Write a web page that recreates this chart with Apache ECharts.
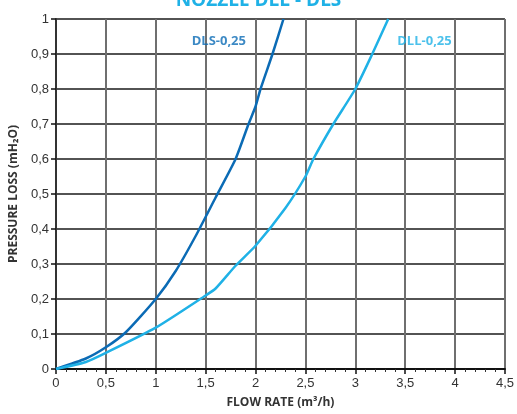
<!DOCTYPE html>
<html>
<head>
<meta charset="utf-8">
<script src="https://cdn.jsdelivr.net/npm/echarts@6/dist/echarts.min.js"></script>
<style>html,body{margin:0;padding:0;background:#fff;overflow:hidden}#c{width:517px;height:414px}</style>
</head>
<body>
<div id="c"></div>
<script>
var titleText = 'NOZZLE DLL - DLS';
var xAxisName = 'FLOW RATE (m³/h)';
var yAxisName = 'PRESSURE LOSS (mH₂O)';
var dlsName = 'DLS-0,25';
var dllName = 'DLL-0,25';
var dlsData = [[0,0],[0.3,0.03],[0.5,0.062],[0.7,0.105],[1.0,0.2],[1.2,0.28],[1.4,0.38],[1.6,0.49],[1.8,0.6],[1.93,0.7],[2.0,0.75],[2.05,0.8],[2.17,0.9],[2.28,1.0]];
var dllData = [[0,0],[0.3,0.02],[0.5,0.046],[1.0,0.118],[1.5,0.21],[1.6,0.23],[1.8,0.295],[2.0,0.352],[2.3,0.46],[2.5,0.55],[2.58,0.6],[2.78,0.7],[3.0,0.8],[3.17,0.9],[3.33,1.0]];
var dlsLabelPos = [1.36, 0.935];
var dllLabelPos = [3.42, 0.935];
var dlsColor = '#0b6bb5';
var dllColor = '#1fb1e6';

var chart = echarts.init(document.getElementById('c'));
function fmt(v){ return String(Math.round(v*10)/10).replace('.', ','); }
chart.setOption({
  animation: false,
  title: {
    text: titleText, left: 'center', top: -14,
    textStyle: {color: dllColor, fontSize: 19, fontWeight: 'bold', fontFamily: 'Open Sans'}
  },
  grid: {left: 55, right: 12, top: 19, bottom: 43},
  xAxis: {
    type: 'value', min: 0, max: 4.5, interval: 0.5,
    name: xAxisName, nameLocation: 'middle', nameGap: 28,
    nameTextStyle: {color: '#333', fontSize: 12, fontWeight: 'bold', fontFamily: 'Open Sans'},
    axisLine: {show: true, lineStyle: {color: '#111', width: 2}},
    axisTick: {show: true, length: 5, lineStyle: {color: '#111', width: 1.5}},
    minorTick: {show: true, splitNumber: 5, length: 3, lineStyle: {color: '#333', width: 1}},
    axisLabel: {color: '#333', fontSize: 13, fontFamily: 'Liberation Sans', margin: 8, formatter: fmt},
    splitLine: {show: true, lineStyle: {color: '#6f6f6f', width: 2}}
  },
  yAxis: {
    type: 'value', min: 0, max: 1, interval: 0.1,
    name: yAxisName, nameLocation: 'middle', nameGap: 31, nameRotate: 90,
    nameTextStyle: {color: '#333', fontSize: 12, fontWeight: 'bold', fontFamily: 'Open Sans'},
    axisLine: {show: true, lineStyle: {color: '#333', width: 2}},
    axisTick: {show: true, length: 5, lineStyle: {color: '#111', width: 1.5}},
    axisLabel: {color: '#333', fontSize: 13, fontFamily: 'Liberation Sans', margin: 7, formatter: fmt},
    splitLine: {show: true, lineStyle: {color: '#1a1a1a', width: 1.5}}
  },
  series: [
    {type: 'line', data: dlsData, symbol: 'none', smooth: 0.2, clip: true,
     lineStyle: {color: dlsColor, width: 2.5}},
    {type: 'line', data: dllData, symbol: 'none', smooth: 0.2, clip: true,
     lineStyle: {color: dllColor, width: 2.5}},
    {type: 'scatter', symbolSize: 0, data: [dlsLabelPos],
     label: {show: true, position: 'right', distance: 0, formatter: dlsName, color: dlsColor, fontSize: 13, fontWeight: 'bold', fontFamily: 'Open Sans'}},
    {type: 'scatter', symbolSize: 0, data: [dllLabelPos],
     label: {show: true, position: 'right', distance: 0, formatter: dllName, color: dllColor, fontSize: 13, fontWeight: 'bold', fontFamily: 'Open Sans'}}
  ]
});
</script>
</body>
</html>
